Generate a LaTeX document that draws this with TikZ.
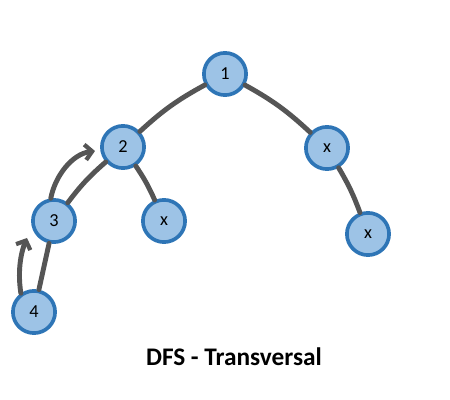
\documentclass[tikz,border=0pt]{standalone}
\usepackage{fontspec}
\setmainfont{Carlito}
\usepackage{xcolor}
\definecolor{nodefill}{HTML}{9DC3E6}
\definecolor{nodeline}{HTML}{2E75B6}
\definecolor{edgegray}{HTML}{555555}
\usetikzlibrary{arrows.meta}

\begin{document}
\begin{tikzpicture}[x=0.025cm, y=-0.025cm,
        vertex/.style={circle, draw=nodeline, fill=nodefill, line width=2.6pt, minimum size=30pt, inner sep=0pt, font=\fontsize{13}{15}\selectfont},
        edge/.style={draw=edgegray, line width=3.5pt, line cap=round},
        walk/.style={edge, -{Straight Barb[length=5pt, width=11pt, line width=3pt]}}]
                        \useasboundingbox (0, 0) rectangle (450, 400);

                        \node (1) at (225, 74) [vertex] {1};
                        \node (2) at (123, 147) [vertex] {2};
                        \node (x1) at (327, 148) [vertex] {x};
                        \node (3) at (54, 221) [vertex] {3};
                        \node (x2) at (164, 221) [vertex] {x};
                        \node (x3) at (368, 234) [vertex] {x};
                        \node (4) at (34, 312) [vertex] {4};

                        \draw[edge] (1) to[bend right=7] (2);
                        \draw[edge] (1) to[bend left=7] (x1);
                        \draw[edge] (2) to[bend left=5] (x2);
                        \draw[edge] (2) to[bend right=6] (3);
                        \draw[edge] (x1) to[bend left=5] (x3);
                        \draw[edge] (3) -- (4);

                        % DFS walk back up
                        \coordinate (t2) at (95, 151);
                        \coordinate (t3) at (27, 238);
                        \draw[walk] (3.98) .. controls (55, 176) and (72, 154) .. (t2);
                        \draw[walk] (4.125) .. controls (17, 268) and (22, 250) .. (t3);

                        \node (title) at (234, 357) {\fontsize{18}{22}\selectfont\bfseries DFS - Transversal};
                    \end{tikzpicture}
\end{document}
